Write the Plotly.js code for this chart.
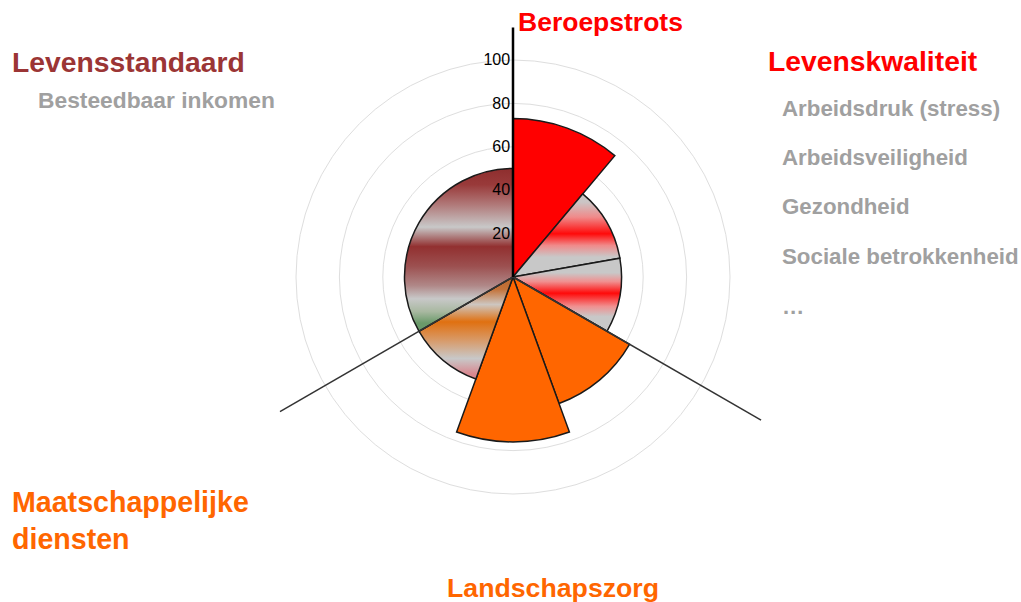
<!DOCTYPE html>
<html><head><meta charset="utf-8">
<script src="https://cdn.plot.ly/plotly-3.0.1.min.js"></script>
<style>
html,body{margin:0;padding:0;overflow:hidden;background:#fff;width:1021px;height:602px;}
#chart{position:absolute;left:0;top:-30px;width:1021px;height:662px;}
</style></head><body><div id="chart"></div>
<script>
// ---- data ----
const segments = ['Beroepstrots','Levenskwaliteit 1','Levenskwaliteit 2','Landschapszorg 1','Landschapszorg 2','Maatschappelijke diensten','Levensstandaard'];
const scores = [73, 50, 50, 62, 76, 50, 50];
const sectorCenters = [20, 60, 100, 140, 180, 220, 300];
const sectorWidths = [40, 40, 40, 40, 40, 40, 120];
const baseColors = ['#ff0000', '#e06a6a', '#e06a6a', '#ff6600', '#ff6600', '#d0884a', '#9c4a4a'];
const dividerAngles = [120, 240];
const dividerLengths = [132, 124];
const axisLineLength = 115;
const radialTicks = [20, 40, 60, 80, 100];
const radialTickText = ['20', '40', '60', '80', '100'];

// vertical colour bands of the shaded sectors (offset, colour), by segment index
const gradLevenskwaliteit1 = [[0,'#cac6c6'],[0.1,'#cbc5c5'],[0.28,'#f08a8a'],[0.48,'#ff0a0a'],[0.62,'#f08a8a'],[0.76,'#c8c8c8'],[1,'#c8c8c8']];
const gradLevenskwaliteit2 = [[0,'#c8c8c8'],[0.2,'#c8c8c8'],[0.32,'#f09090'],[0.48,'#ff0a0a'],[0.66,'#f09090'],[0.8,'#c8c8c8'],[1,'#c8c8c8']];
const gradDiensten = [[0,'#b86830'],[0.12,'#c47238'],[0.27,'#cdc6c0'],[0.44,'#e07010'],[0.62,'#d89a68'],[0.8,'#c8c8c8'],[0.95,'#d88890'],[1,'#d88890']];
const gradStandaard = [[0,'#8e2e2e'],[0.1,'#993a3a'],[0.22,'#b07878'],[0.36,'#c8c8c8'],[0.48,'#923030'],[0.6,'#9c5050'],[0.72,'#b08888'],[0.8,'#c8c8c8'],[0.88,'#a8b8a0'],[0.95,'#6a9a6a'],[1,'#6a9a6a']];
const segmentGradients = [null, gradLevenskwaliteit1, gradLevenskwaliteit2, null, null, gradDiensten, gradStandaard];

// ---- layout helpers (page pixel -> paper fraction) ----
const W = 1021, H = 662, OFF = 30;
const px = x => x / W;
const py = y => 1 - (y + OFF) / H;
const FONT = 'Liberation Sans, Arial, sans-serif';

const cx = 513, cy = 277, rmax = 133, scale = 2.17;
const R = rmax * scale;

const data = [
  {
    type: 'barpolar',
    r: scores,
    theta: sectorCenters,
    width: sectorWidths,
    text: segments,
    marker: { color: baseColors, line: { color: '#1a1a1a', width: 1.5 } },
    hoverinfo: 'skip'
  }
];
// divider lines
const dr = [], dt = [];
dividerAngles.forEach((a, i) => { dr.push(0, dividerLengths[i], null); dt.push(a, a, null); });
data.push({ type: 'scatterpolar', mode: 'lines', r: dr, theta: dt, line: { color: '#333333', width: 1.5 }, hoverinfo: 'skip', cliponaxis: false });
data.push({ type: 'scatterpolar', mode: 'lines', r: [0, axisLineLength], theta: [0, 0], line: { color: '#000000', width: 2.5 }, hoverinfo: 'skip', cliponaxis: false });

function ann(text, x, y, size, color, extra) {
  return Object.assign({ text: text, x: px(x), y: py(y), xref: 'paper', yref: 'paper', xanchor: 'left', yanchor: 'middle', showarrow: false, align: 'left',
    font: { family: FONT, size: size, color: color, weight: 'bold' } }, extra || {});
}
const grey = '#a0a0a0';
const annotations = [
  ann('Beroepstrots', 516, 22, 26.5, '#ff0000'),
  ann('Levensstandaard', 10, 62, 28.3, '#9b3535'),
  ann('Besteedbaar inkomen', 36, 100, 22.8, grey),
  ann('Levenskwaliteit', 766, 61, 28.3, '#ff0000'),
  ann('Arbeidsdruk (stress)', 780, 108, 22.3, grey),
  ann('Arbeidsveiligheid', 780, 157, 22.3, grey),
  ann('Gezondheid', 780, 207, 22.3, grey),
  ann('Sociale betrokkenheid', 780, 256, 22.3, grey),
  ann('…', 780, 306, 22.3, grey),
  ann('Maatschappelijke<br>diensten', 10, 520, 28.6, '#ff6600'),
  ann('Landschapszorg', 445, 588, 26.7, '#ff6600')
];

const layout = {
  width: W, height: H,
  margin: { l: 0, r: 0, t: 0, b: 0 },
  paper_bgcolor: '#ffffff',
  showlegend: false,
  hovermode: false,
  polar: {
    domain: { x: [(cx - R) / W, (cx + R) / W], y: [(H - cy - OFF - R) / H, (H - cy - OFF + R) / H] },
    bgcolor: '#ffffff',
    bargap: 0,
    radialaxis: {
      range: [0, rmax], tickvals: radialTicks, ticktext: radialTickText,
      showline: false, ticks: '', angle: 90, side: 'counterclockwise', tickangle: 90,
      gridcolor: '#dedede', gridwidth: 1,
      tickfont: { family: FONT, size: 16, color: '#000000' }
    },
    angularaxis: {
      rotation: 90, direction: 'clockwise', showline: false, showgrid: false,
      showticklabels: false, ticks: ''
    }
  },
  annotations: annotations
};

Plotly.newPlot('chart', data, layout, { staticPlot: true, displayModeBar: false }).then(gd => {
  const NS = 'http://www.w3.org/2000/svg';
  const svg = gd.querySelector('svg.main-svg');
  const defs = document.createElementNS(NS, 'defs');
  svg.insertBefore(defs, svg.firstChild);
  const paths = gd.querySelectorAll('.barlayer .point path');
  paths.forEach((p, i) => {
    const stops = segmentGradients[i];
    if (!stops) return;
    const g = document.createElementNS(NS, 'linearGradient');
    g.setAttribute('id', 'band' + i);
    g.setAttribute('x1', '0'); g.setAttribute('y1', '0');
    g.setAttribute('x2', '0'); g.setAttribute('y2', '1');
    stops.forEach(s => {
      const st = document.createElementNS(NS, 'stop');
      st.setAttribute('offset', s[0]);
      st.setAttribute('stop-color', s[1]);
      g.appendChild(st);
    });
    defs.appendChild(g);
    p.style.fill = 'url(#band' + i + ')';
  });
});
</script>
</body></html>
